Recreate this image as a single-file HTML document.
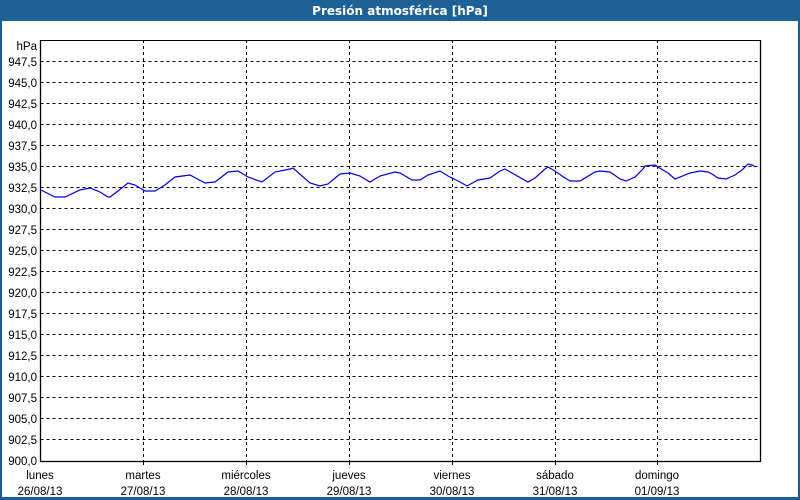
<!DOCTYPE html>
<html><head><meta charset="utf-8"><style>
html,body{margin:0;padding:0;background:#fff}
body{width:800px;height:500px;position:relative;overflow:hidden;font-family:"Liberation Sans",sans-serif}
</style></head><body>
<svg width="800" height="500" xmlns="http://www.w3.org/2000/svg" style="position:absolute;left:0;top:0">
<rect x="0" y="0" width="800" height="500" fill="#1b5e95"/>
<rect x="2" y="21" width="796" height="476" fill="#fff"/>
<rect x="0" y="0" width="800" height="21" fill="#1d6197"/>
<text x="400" y="15" fill="#fff" font-size="12" font-weight="bold" text-anchor="middle" font-family="DejaVu Sans, sans-serif">Presión atmosférica [hPa]</text>
<g stroke="#000" stroke-width="1" stroke-dasharray="3,3" fill="none">
<path d="M40.5 61.5H760M40.5 82.5H760M40.5 103.5H760M40.5 124.5H760M40.5 145.5H760M40.5 166.5H760M40.5 187.5H760M40.5 208.5H760M40.5 229.5H760M40.5 250.5H760M40.5 271.5H760M40.5 292.5H760M40.5 313.5H760M40.5 334.5H760M40.5 355.5H760M40.5 376.5H760M40.5 397.5H760M40.5 418.5H760M40.5 439.5H760"/>
<path d="M143.5 40V461M246.5 40V461M349.5 40V461M452.5 40V461M555.5 40V461M657.5 40V461"/>
</g>
<path d="M40.5 40V461.5H760.5V40" stroke="#000" stroke-width="1.3" fill="none"/>
<path d="M40.5 40.5H760.5" stroke="#000" stroke-width="1" fill="none"/>
<g stroke="#000"><path d="M143.5 461V465M246.5 461V465M349.5 461V465M452.5 461V465M555.5 461V465M657.5 461V465"/></g>
<polyline fill="none" stroke="#0000ee" stroke-width="1.2" points="41,190 55,197 65,197 80,190 90,188 100,192 108,197 110,197 118,191 128,183 135,185 145,191 155,191 165,185 175,177 190,175 205,183 215,182 228,172 238,171 248,177 262,182 275,172 290,169 293,168 310,183 320,186 328,184 340,174 350,173 360,176 370,182 380,176 395,172 400,173 412,180 420,180 428,175 440,171 448,176 460,182 467,186 478,180 490,178 500,171 505,169 512,173 528,182 535,178 545,169 548,167 555,171 562,176 570,181 580,181 595,172 600,171 610,172 620,179 626,181 635,177 643,169 645,166 655,165 658,167 668,173 675,179 690,173 700,171 708,172 712,174 718,178 726,179 735,175 742,170 748,164 752,165 756,167"/>
<g font-size="11.5" fill="#000" text-anchor="end">
<text x="37" y="50">hPa</text>
<text x="37" y="66">947,5</text><text x="37" y="87">945,0</text><text x="37" y="108">942,5</text><text x="37" y="129">940,0</text><text x="37" y="150">937,5</text><text x="37" y="171">935,0</text><text x="37" y="192">932,5</text><text x="37" y="213">930,0</text><text x="37" y="234">927,5</text><text x="37" y="255">925,0</text><text x="37" y="276">922,5</text><text x="37" y="297">920,0</text><text x="37" y="318">917,5</text><text x="37" y="339">915,0</text><text x="37" y="360">912,5</text><text x="37" y="381">910,0</text><text x="37" y="402">907,5</text><text x="37" y="423">905,0</text><text x="37" y="444">902,5</text><text x="37" y="465">900,0</text>
</g>
<g font-size="11.5" fill="#000" text-anchor="middle">
<text x="40" y="479">lunes</text><text x="40" y="495">26/08/13</text>
<text x="143" y="479">martes</text><text x="143" y="495">27/08/13</text>
<text x="246" y="479">miércoles</text><text x="246" y="495">28/08/13</text>
<text x="349" y="479">jueves</text><text x="349" y="495">29/08/13</text>
<text x="452" y="479">viernes</text><text x="452" y="495">30/08/13</text>
<text x="555" y="479">sábado</text><text x="555" y="495">31/08/13</text>
<text x="657" y="479">domingo</text><text x="657" y="495">01/09/13</text>
</g>
</svg>
</body></html>
